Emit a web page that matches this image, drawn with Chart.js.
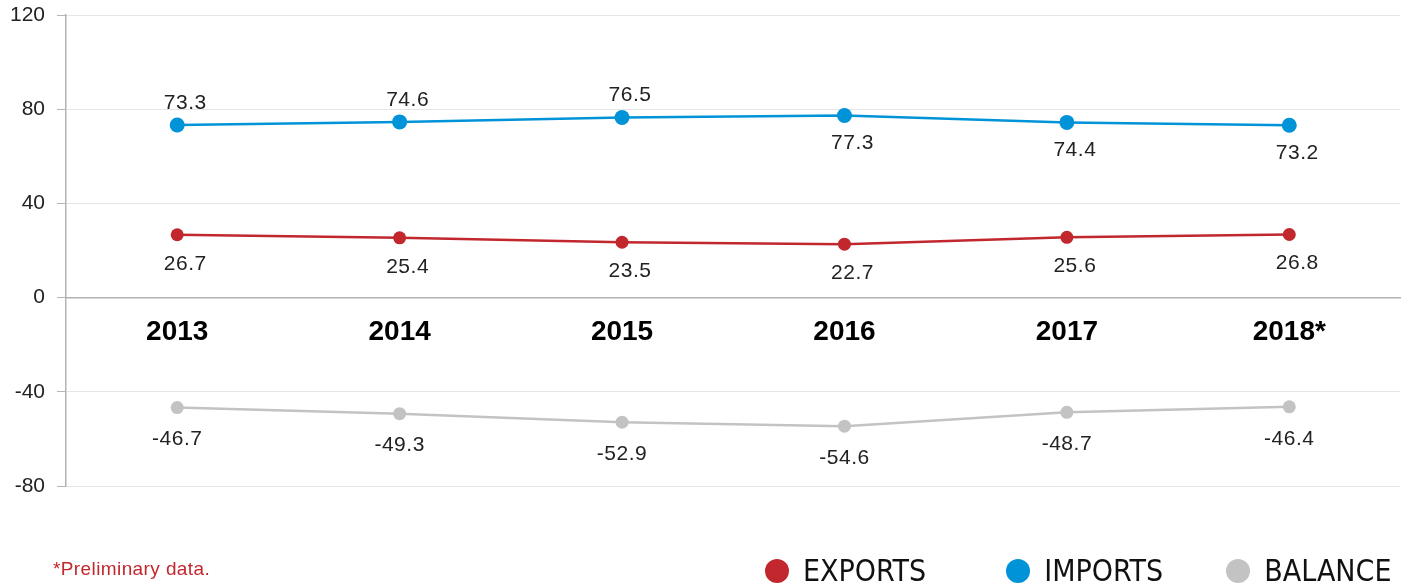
<!DOCTYPE html>
<html>
<head>
<meta charset="utf-8">
<script src="https://cdn.jsdelivr.net/npm/chart.js@4.4.1/dist/chart.umd.min.js"></script>
<style>
  body { margin: 0; background: #fff; }
  #wrap { position: relative; width: 1408px; height: 586px; overflow: hidden; }
  #note {
    position: absolute; left: 53px; top: 558px;
    font: 19px "Liberation Sans", Arial, sans-serif; color: #c1272d; letter-spacing: 0.4px;
  }
  #legend { position: absolute; left: 765px; top: 554px; display: flex; align-items: center; }
  .lg-item { display: flex; align-items: center; font: 30px "Liberation Sans Narrow", "DejaVu Sans Condensed", sans-serif; color: #111; line-height: 34px; }
  .lg-item .dot { width: 24px; height: 24px; border-radius: 50%; margin-right: 14px; }
  .lg-item:nth-child(1) { margin-right: 80px; }
  .lg-item:nth-child(2) { margin-right: 63px; }
</style>
</head>
<body>
<div id="wrap">
  <canvas id="chart" width="1408" height="586"></canvas>
  <div id="note">*Preliminary data.</div>
  <div id="legend"></div>
</div>
<script>
const years = ['2013', '2014', '2015', '2016', '2017', '2018*'];
const exportsData = [26.7, 25.4, 23.5, 22.7, 25.6, 26.8];
const importsData = [73.3, 74.6, 76.5, 77.3, 74.4, 73.2];
const balanceData = [-46.7, -49.3, -52.9, -54.6, -48.7, -46.4];
const yTicks = [-80, -40, 0, 40, 80, 120];

// where each value label sits relative to its point
const exportsSide = ['below', 'below', 'below', 'below', 'below', 'below'];
const importsSide = ['above', 'above', 'above', 'below', 'below', 'below'];
const balanceSide = ['below', 'below', 'below', 'below', 'below', 'below'];

const FONT = '"Liberation Sans", Arial, sans-serif';

const valueLabels = {
    id: 'valueLabels',
    afterDatasetsDraw(chart) {
        const ctx = chart.ctx;
        ctx.save();
        ctx.font = '21px ' + FONT;
        ctx.letterSpacing = '0.5px';
        ctx.fillStyle = '#222';
        ctx.textAlign = 'center';
        ctx.textBaseline = 'middle';
        chart.data.datasets.forEach((ds, i) => {
            const meta = chart.getDatasetMeta(i);
            meta.data.forEach((pt, j) => {
                const side = ds.labelSide[j];
                const y = side === 'above' ? pt.y - ds.labelAbove : pt.y + ds.labelBelow;
                ctx.fillText(ds.data[j].toFixed(1), pt.x + ds.labelDx, y);
            });
        });
        ctx.restore();
    }
};

const chart = new Chart(document.getElementById('chart'), {
    type: 'line',
    data: {
        labels: years,
        datasets: [
            {
                label: 'EXPORTS', data: exportsData, borderColor: '#c1272d', backgroundColor: '#c1272d',
                borderWidth: 2.5, pointRadius: 6.5, pointBorderWidth: 0, tension: 0,
                labelSide: exportsSide, labelAbove: 22, labelBelow: 29, labelDx: 8
            },
            {
                label: 'IMPORTS', data: importsData, borderColor: '#0093d8', backgroundColor: '#0093d8',
                borderWidth: 2.5, pointRadius: 7.5, pointBorderWidth: 0, tension: 0,
                labelSide: importsSide, labelAbove: 22, labelBelow: 28, labelDx: 8
            },
            {
                label: 'BALANCE', data: balanceData, borderColor: '#c3c3c3', backgroundColor: '#c3c3c3',
                borderWidth: 2.5, pointRadius: 6.5, pointBorderWidth: 0, tension: 0,
                labelSide: balanceSide, labelAbove: 22, labelBelow: 32, labelDx: 0
            }
        ]
    },
    options: {
        responsive: false,
        animation: false,
        events: [],
        layout: { padding: { top: 15, right: 0, bottom: 100, left: 0 } },
        plugins: { legend: { display: false }, tooltip: { enabled: false } },
        scales: {
            x: {
                position: { y: 0 },
                offset: true,
                afterFit: s => { s.paddingLeft = 0; s.paddingRight = 0; },
                grid: { display: false, drawTicks: false },
                border: { color: '#b3b3b3', width: 1.5 },
                ticks: { color: '#000', padding: 18, font: { family: FONT, size: 28, weight: 'bold' } }
            },
            y: {
                min: -80, max: 120,
                afterBuildTicks: s => { s.ticks = yTicks.map(v => ({ value: v })); },
                afterFit: s => { s.width = 66; s.paddingTop = 0; s.paddingBottom = 0; },
                grid: { color: '#e6e6e6', lineWidth: 1, tickColor: '#b3b3b3', tickLength: 9 },
                border: { color: '#b3b3b3', width: 1.5 },
                ticks: { color: '#222', padding: 12, font: { family: FONT, size: 21 } }
            }
        }
    },
    plugins: [valueLabels]
});

// html legend built from the datasets
const legend = document.getElementById('legend');
chart.data.datasets.forEach(ds => {
    const item = document.createElement('div');
    item.className = 'lg-item';
    item.innerHTML = `<span class="dot" style="background:${ds.borderColor}"></span><span>${ds.label}</span>`;
    legend.appendChild(item);
});
</script>
</body>
</html>
